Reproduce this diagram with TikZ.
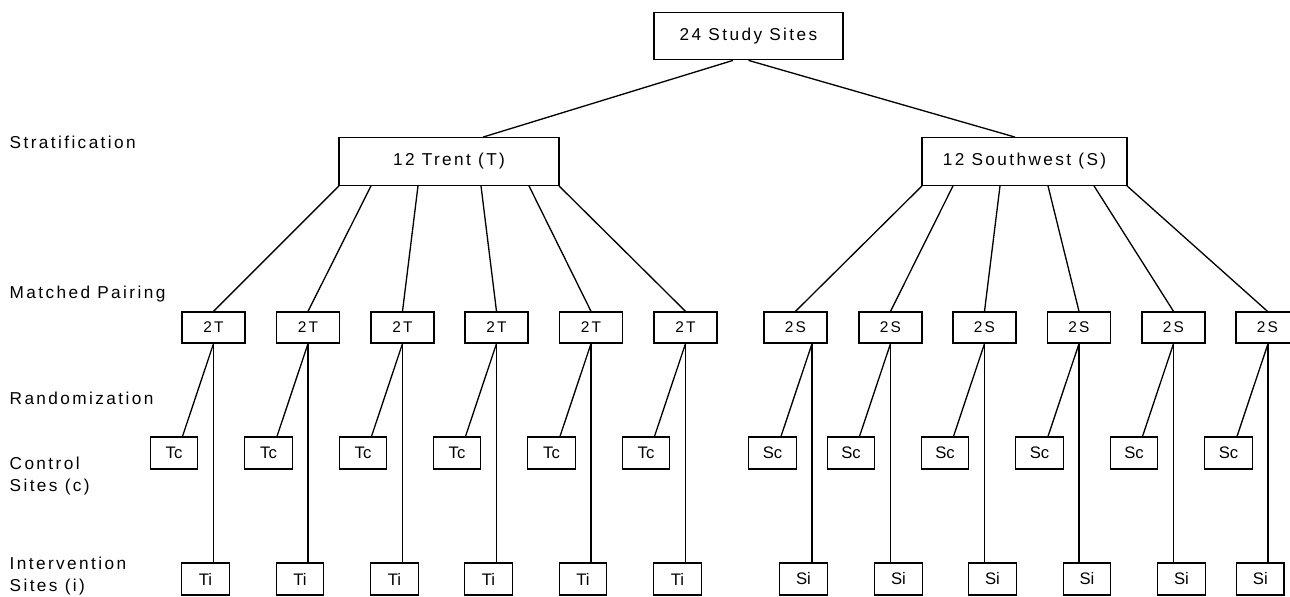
\documentclass[tikz,border=0pt]{standalone}
\usepackage{fontspec}
\setmainfont{Liberation Sans}
\newfontfamily\trackfont[LetterSpace=14]{Liberation Sans}
\usetikzlibrary{calc}

\begin{document}
\begin{tikzpicture}[x=0.02cm, y=-0.02cm, line width=0.75pt,
	stratbox/.style = {draw, inner sep=0pt, minimum height=0.95cm, font=\trackfont\fontsize{9.8}{12}\selectfont},
	pairbox/.style = {draw, inner sep=0pt, minimum width=1.26cm, minimum height=0.62cm, font=\trackfont\fontsize{8.8}{10}\selectfont},
	sitebox/.style = {draw, inner sep=0pt, minimum width=0.95cm, minimum height=0.64cm, font=\fontsize{9.5}{11}\selectfont},
	stage/.style = {anchor=north west, inner sep=0pt, align=left, font=\trackfont\fontsize{9.8}{12.6}\selectfont}]
	\useasboundingbox (0,0) rectangle (1290,597);
	% stages
	\node[stage] (strat) at (9,135) {Stratification};
	\node[stage] (match) at (9,285) {Matched Pairing};
	\node[stage] (rand) at (9,391) {Randomization};
	\node[stage] (ctrl) at (9,456) {Control\\Sites (c)};
	\node[stage] (intv) at (9,556) {Intervention\\Sites (i)};
	% strata
	\node[stratbox, minimum width=3.78cm] (all) at (748.5,36) {24 Study Sites};
	\node[stratbox, minimum width=4.4cm] (trent) at (449,161.5) {12 Trent (T)};
	\node[stratbox, minimum width=4.1cm] (south) at (1024.5,161.5) {12 Southwest (S)};
	\draw ($(all.south)+(-15.5,0)$) -- ($(trent.north)+(34,0)$);
	\draw (all.south) -- ($(south.north)+(-9.5,0)$);
	% Trent pairs
	\foreach \i/\x/\o in {1/213.5/-110, 2/308/-78, 3/402.5/-31, 4/496.5/32, 5/591/80, 6/685.5/110} {
		\node[pairbox] (t\i) at (\x,327.5) {2T};
		\node[sitebox] (tc\i) at (\x-39.5,453) {Tc};
		\node[sitebox] (ti\i) at (\x-8,579) {Ti};
		\draw ($(trent.south)+(\o,0)$) -- (t\i.north);
		\draw (t\i.south) -- ($(tc\i.north)+(8.5,0)$);
		\draw (t\i.south) -- ($(ti\i.north)+(8,0)$);
	}
	% Southwest pairs
	\foreach \i/\x/\l/\s/\o in {1/795.5/812/803.5/-102.5, 2/890.5/890.5/898.5/-71.5, 3/984.5/984.5/992.5/-24.5, 4/1079/1079/1087/23.5, 5/1173.5/1173.5/1181.5/69.5, 6/1267.5/1268/1260.3/102.5} {
		\node[pairbox] (s\i) at (\x,327.5) {2S};
		\node[sitebox] (sc\i) at (\l-39.5,453) {Sc};
		\node[sitebox] (si\i) at (\s,579) {Si};
		\draw ($(south.south)+(\o,0)$) -- (s\i.north);
		\draw ($(s\i.south)+(\l-\x,0)$) -- ($(sc\i.north)+(8.5,0)$);
		\draw ($(s\i.south)+(\l-\x,0)$) -- ($(si\i.north)+(\l-\s,0)$);
	}
\end{tikzpicture}
\end{document}
